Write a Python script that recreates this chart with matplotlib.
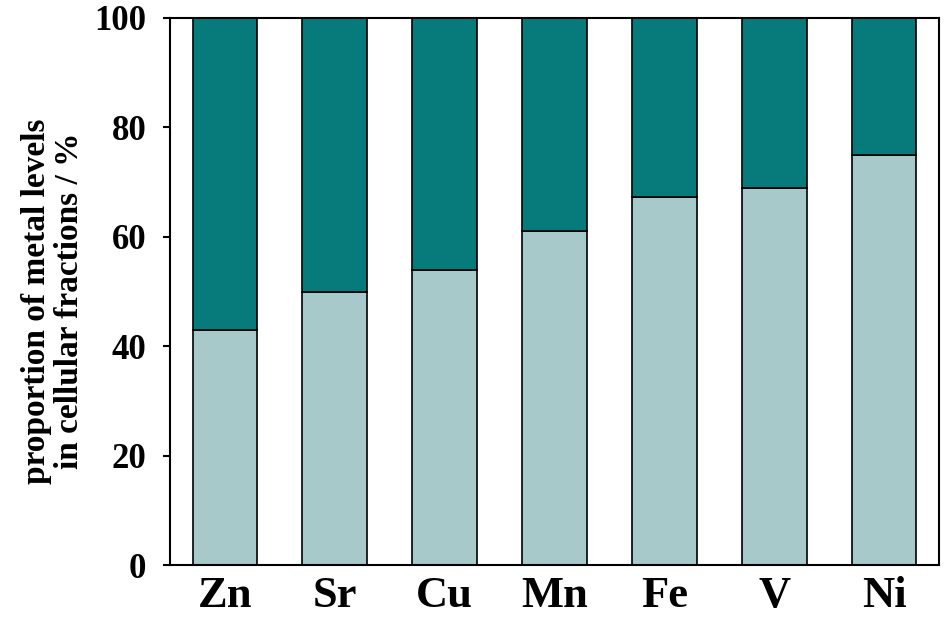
import matplotlib
matplotlib.use('Agg')
import matplotlib.pyplot as plt
import numpy as np

# metal distribution between the two cellular fractions (%)
metals = ['Zn', 'Sr', 'Cu', 'Mn', 'Fe', 'V', 'Ni']
lower_fraction = [43.0, 50.0, 54.0, 61.0, 67.2, 69.0, 75.0]
upper_fraction = [100 - v for v in lower_fraction]
y_ticks = [0, 20, 40, 60, 80, 100]

plt.rcParams['font.family'] = ['Liberation Serif', 'DejaVu Serif']
plt.rcParams['font.weight'] = 'bold'

fig = plt.figure(figsize=(9.46, 6.22), dpi=100)
ax = fig.add_axes([170 / 946, 57 / 622, 769 / 946, 547 / 622])

x = np.arange(len(metals))
ax.bar(x, lower_fraction, width=0.59, color='#a7c9c9', edgecolor='black', linewidth=1.2)
ax.bar(x, upper_fraction, width=0.59, bottom=lower_fraction, color='#077b7b',
       edgecolor='black', linewidth=1.2)

ax.set_xlim(-0.5, len(metals) - 0.5)
ax.set_ylim(0, 100)
ax.set_yticks(y_ticks)
ax.set_xticks(x)
ax.set_xticklabels(metals, fontsize=32, fontweight='bold')
ax.set_yticklabels([str(t) for t in y_ticks], fontsize=25, fontweight='bold')

ax.tick_params(axis='x', length=0, pad=8)
ax.tick_params(axis='y', direction='out', length=5, width=1.5, pad=12)
for spine in ax.spines.values():
    spine.set_linewidth(1.5)

ax.set_ylabel('proportion of metal levels\nin cellular fractions / %', fontsize=24,
              fontweight='bold', linespacing=1.1)
ax.yaxis.set_label_coords(-0.11, 0.483)

fig.savefig('out.png', dpi=100)
